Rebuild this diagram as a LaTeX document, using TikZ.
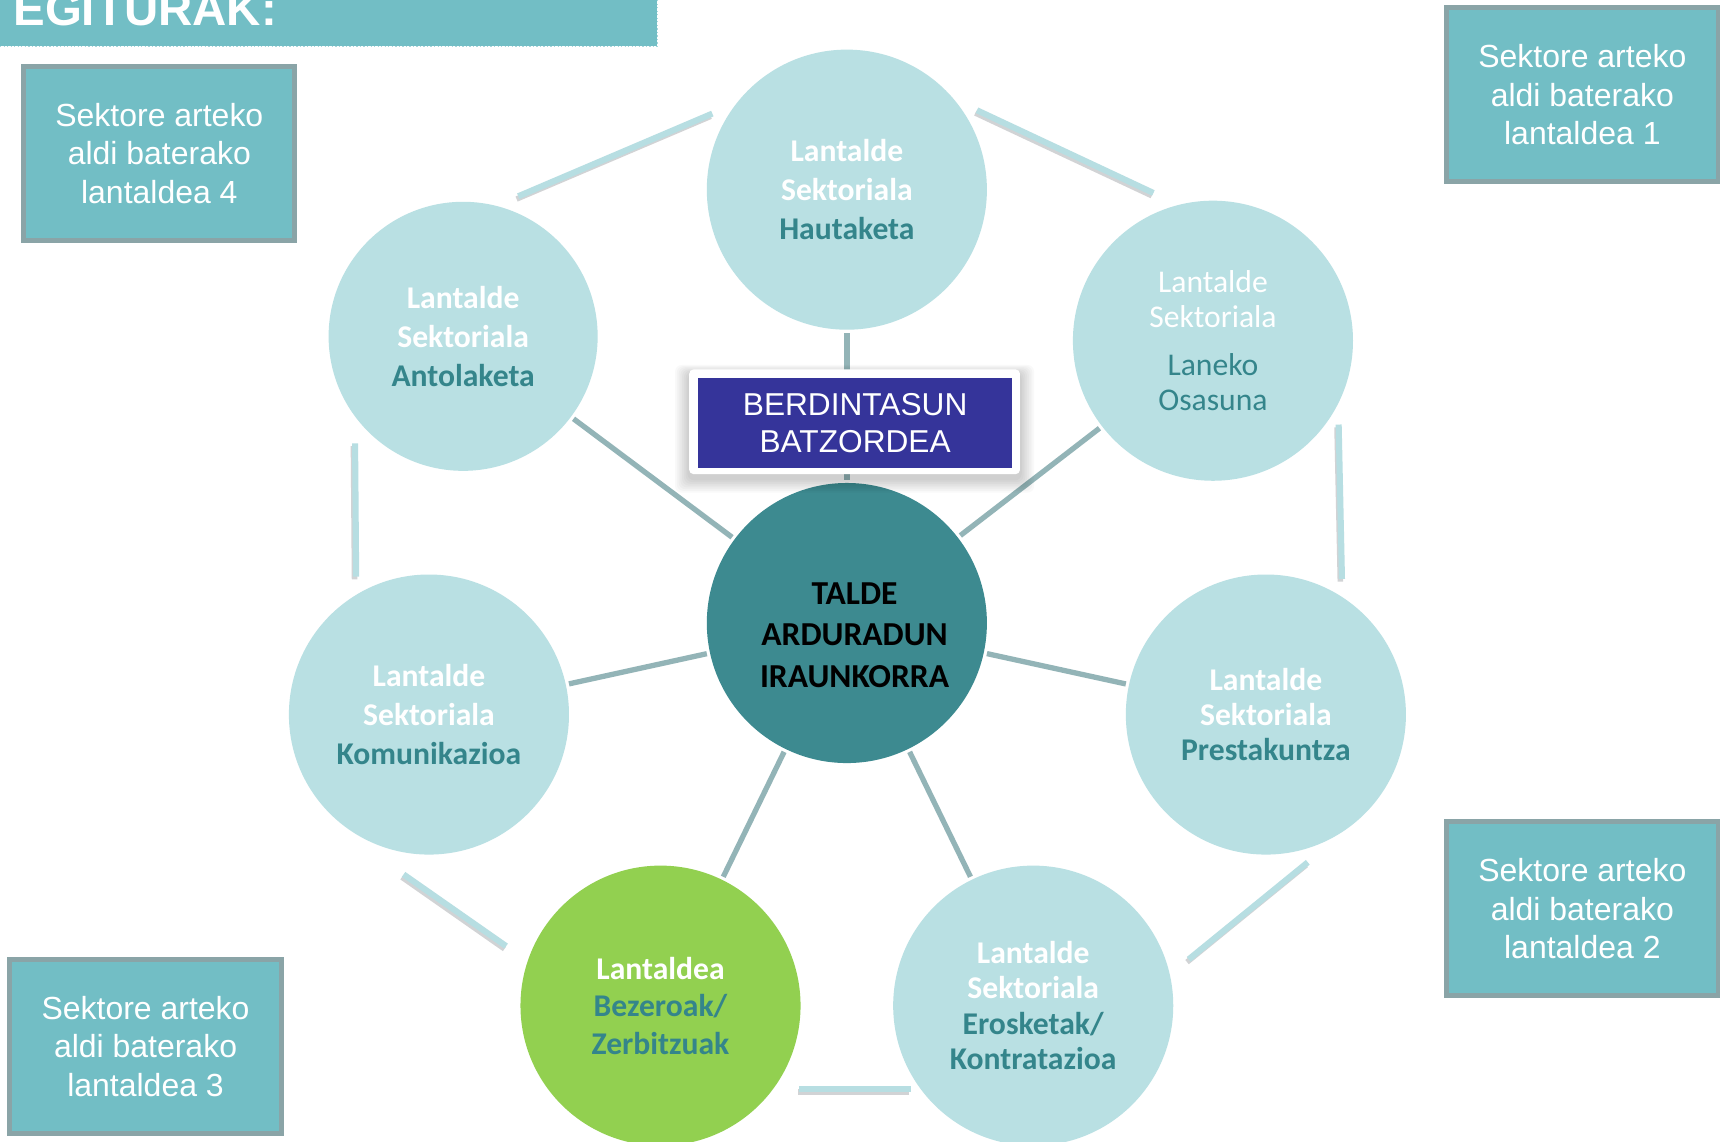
\documentclass[tikz,border=0pt]{standalone}
\usepackage{fontspec}
\setmainfont{Liberation Sans}
\newfontfamily\calib{Carlito}
\usetikzlibrary{calc}

\definecolor{boxfill}{HTML}{72BEC5}
\definecolor{boxedge}{HTML}{8AA4A7}
\definecolor{bubble}{HTML}{B9E0E3}
\definecolor{hub}{HTML}{3D8A90}
\definecolor{leafgreen}{HTML}{92D050}
\definecolor{spoke}{HTML}{93B4B7}
\definecolor{ring}{HTML}{B7DEE2}
\definecolor{ringshade}{HTML}{9A9FA2}
\definecolor{tealtext}{HTML}{34858B}
\definecolor{commblue}{HTML}{35349A}
\definecolor{headedge}{HTML}{A8D6DB}

\tikzset{
  groupbox/.style={draw=boxedge, line width=4.5, fill=boxfill, minimum width=246, minimum height=158,
    inner sep=0, align=center, text=white, font=\fontsize{29}{35}\selectfont},
  bubblenode/.style={circle, fill=bubble, minimum size=254, inner sep=0, outer sep=2,
    align=center, font=\calib\bfseries\fontsize{28.7}{35.5}\selectfont, text=white},
  spokeline/.style={draw=spoke, line width=4.8},
  ringline/.style={draw=ring, line width=5.5},
  ringshadow/.style={draw=ringshade, line width=5, opacity=0.45},
  hl/.style={text=tealtext}
}

\begin{document}
\begin{tikzpicture}[x=1pt, y=-1pt]
\useasboundingbox (0,0) rectangle (1568,1035);
\clip (0,0) rectangle (1568,1035);
\fill[white] (0,0) rectangle (1568,1035);

% title bar
\fill[boxfill] (-5,-5) rectangle (596,42);
\draw[headedge, line width=1.2, dotted] (0,42) -- (596,42) -- (596,-5);
\node[anchor=base west, inner sep=0, text=white, font=\bfseries\fontsize{43}{43}\selectfont] (title) at (12,23) {EGITURAK:};

% group boxes in the corners
\node[groupbox] (g4) at (144.5,139) {Sektore arteko\\aldi baterako\\lantaldea 4};
\node[groupbox] (g1) at (1435,86) {Sektore arteko\\aldi baterako\\lantaldea 1};
\node[groupbox] (g2) at (1435,824) {Sektore arteko\\aldi baterako\\lantaldea 2};
\node[groupbox] (g3) at (132,949) {Sektore arteko\\aldi baterako\\lantaldea 3};

% circles
\node[bubblenode] (hau) at (768,172) {Lantalde\\Sektoriala\\\textcolor{tealtext}{Hautaketa}};
\node[bubblenode, minimum size=244] (ant) at (420,305) {Lantalde\\Sektoriala\\\textcolor{tealtext}{Antolaketa}};
\node[bubblenode, font=\calib\fontsize{28.7}{32}\selectfont] (lan) at (1100,309)
  {Lantalde\\Sektoriala\\[11pt]\textcolor{tealtext}{Laneko}\\\textcolor{tealtext}{Osasuna}};
\node[bubblenode] (kom) at (389,648) {Lantalde\\Sektoriala\\\textcolor{tealtext}{Komunikazioa}};
\node[bubblenode, font=\calib\bfseries\fontsize{28.7}{32}\selectfont] (pre) at (1148,648) {Lantalde\\Sektoriala\\\textcolor{tealtext}{Prestakuntza}};
\node[bubblenode, fill=leafgreen, font=\calib\bfseries\fontsize{28.7}{34}\selectfont] (bez) at (599,912) {Lantaldea\\\textcolor{tealtext}{Bezeroak/}\\\textcolor{tealtext}{Zerbitzuak}};
\node[bubblenode, font=\calib\bfseries\fontsize{28.7}{32}\selectfont] (ero) at (937,912) {Lantalde\\Sektoriala\\\textcolor{tealtext}{Erosketak/}\\\textcolor{tealtext}{Kontratazioa}};
\node[bubblenode, fill=hub] (hub) at (768,565) {};
\node[inner sep=0, align=center, text=black, font=\calib\bfseries\fontsize{30.4}{37.5}\selectfont]
  (hubtext) at (775,576) {TALDE\\ARDURADUN\\IRAUNKORRA};

% spokes from the central group
\foreach \t in {hau,ant,lan,kom,pre,bez,ero}
  \draw[spokeline, shorten <=1, shorten >=1] (hub) -- (\t);

% outer ring segments
\coordinate (r1a) at (470,178);  \coordinate (r1b) at (646,103);
\coordinate (r2a) at (886,100);  \coordinate (r2b) at (1046,175);
\coordinate (r3a) at (1214,385); \coordinate (r3b) at (1217,525);
\coordinate (r4a) at (1186,782); \coordinate (r4b) at (1078,870);
\coordinate (r5a) at (826,988);  \coordinate (r5b) at (725,988);
\coordinate (r6a) at (459,858);  \coordinate (r6b) at (366,793);
\coordinate (r7a) at (323,523);  \coordinate (r7b) at (322,402);
\foreach \s in {1,...,7}{
  \draw[ringshadow] ($(r\s a)+(-1.5,2.5)$) -- ($(r\s b)+(-1.5,2.5)$);
  \draw[ringline] (r\s a) -- (r\s b);
}

% committee box with soft shadow
\foreach \k in {1,...,8}
  \fill[black, opacity=0.025, rounded corners=6]
    ($(625,335)+(-1.6*\k,-1.0*\k+4)$) rectangle ($(925,430)+(1.6*\k,1.6*\k+4)$);
\node[fill=white, rounded corners=4, minimum width=300, minimum height=95, inner sep=0] (frame) at (775,382.5) {};
\node[fill=commblue, minimum width=285, minimum height=81, inner sep=0, align=center, text=white,
  font=\fontsize{28.7}{34}\selectfont] (ber) at (775.5,383.5) {BERDINTASUN\\BATZORDEA};
\end{tikzpicture}
\end{document}
